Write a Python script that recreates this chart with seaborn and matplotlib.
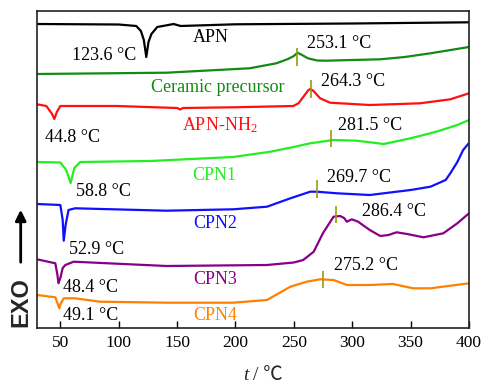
import matplotlib
matplotlib.use("Agg")
import matplotlib.pyplot as plt
import seaborn as sns
import pandas as pd

# ---- data (temperature in deg C, heat flow in arbitrary stacked units) ----
apn_t = [30, 100, 115, 119, 121.5, 123.6, 125.5, 128, 133, 141, 147, 153, 200, 300, 400]
apn_y = [304, 303.5, 302, 297, 288, 271, 286, 294, 301, 302.7, 304, 302, 303.7, 304.5, 305.7]

cer_t = [30, 141, 212, 235, 245, 250, 253.1, 257, 262, 270, 278, 300, 324, 345, 367, 400]
cer_y = [254, 255.3, 259.7, 264.7, 269, 272, 275.3, 273, 269.7, 267.5, 267.3, 268, 268.7, 271, 274.7, 281]

nh2_t = [30, 38, 42.9, 44.8, 47, 50, 98.5, 150, 152.7, 155, 198, 249.5, 254, 258.2, 262.5,
         264.3, 266.8, 272.5, 281, 315, 358, 384, 400]
nh2_y = [223.7, 222, 214, 209, 216, 222, 222, 220, 218.5, 220, 220.7, 222, 224.7, 231.3, 238,
         239, 237, 229.7, 225.3, 223, 224.7, 228.7, 234.7]

cpn1_t = [30, 50, 55, 58.8, 62, 67, 127, 198, 230, 251, 264, 284, 304, 327, 350, 372, 390, 400]
cpn1_y = [166, 165.5, 158, 145, 160, 166, 167, 171, 176.3, 181.3, 184.7, 188, 187.3, 184,
          189.7, 196.3, 203, 208]

cpn2_t = [30, 50, 52, 52.9, 54.5, 57, 62.6, 141, 198, 227, 247, 264, 269.7, 287, 315, 350,
          367, 380, 384, 390, 395, 400]
cpn2_y = [124, 123, 108, 87.3, 103, 118, 119.7, 117.3, 118.7, 121.3, 129.7, 136.3, 136.3,
          134.7, 133, 138, 141.3, 148, 154.7, 166, 178, 185]

cpn3_t = [30, 45.7, 47.5, 48.4, 50, 52, 54.3, 61.4, 141, 227, 250, 258, 267, 275, 284, 289.6,
          293, 295.4, 299.6, 305, 315, 324, 331, 338, 347, 361, 378, 390, 400]
cpn3_y = [68.7, 64.7, 53, 44.7, 50, 60, 63, 66.3, 62, 63, 65.5, 68, 76.3, 95, 111.3, 112,
          110, 106.3, 108.7, 106.3, 98, 92, 93, 95.7, 94, 90.7, 94.7, 104.7, 114.7]

cpn4_t = [30, 45.7, 47.5, 49.1, 50.5, 53, 62.6, 84, 141, 198, 227, 247, 261, 272.5, 284,
          295.4, 315, 335, 352, 367, 400]
cpn4_y = [33, 30.7, 25, 19.7, 25, 29.7, 29.7, 26.3, 25.3, 25.3, 28, 41.3, 46.3, 48.7, 48,
          43, 43, 44, 39.7, 39.7, 44.7]

series_names = ["APN", "Ceramic precursor", "APN-NH$_2$", "CPN1", "CPN2", "CPN3", "CPN4"]
series_t = [apn_t, cer_t, nh2_t, cpn1_t, cpn2_t, cpn3_t, cpn4_t]
series_y = [apn_y, cer_y, nh2_y, cpn1_y, cpn2_y, cpn3_y, cpn4_y]
series_colors = ["#000000", "#138a13", "#ff1010", "#22ee22", "#1010ff", "#880088", "#ff8000"]

# peak markers: temperature, lower, upper
mark_t = [253.1, 264.3, 281.5, 269.7, 286.4, 275.2]
mark_lo = [262, 230, 181, 130, 105, 40]
mark_hi = [280, 248, 198, 148, 122, 57]

# annotation labels
ann_text = ["123.6 °C", "253.1 °C", "264.3 °C", "44.8 °C", "281.5 °C", "58.8 °C",
            "269.7 °C", "52.9 °C", "286.4 °C", "48.4 °C", "275.2 °C", "49.1 °C"]
ann_t = [60.3, 261.4, 273.4, 37.2, 287.9, 63.7, 278.5, 57.7, 308.4, 52.6, 284.5, 52.6]
ann_y = [273, 285, 247, 191, 202, 136, 151, 78, 117, 41, 62, 13]

# series name labels (centers)
name_t = [178.4, 185.2, 187, 181.8, 182.7, 182.7, 182.7]
name_y = [291, 241, 203, 153, 105, 49, 13]

xticks = [50, 100, 150, 200, 250, 300, 350, 400]

# ---- plotting ----
sns.set_theme(style="ticks")
plt.rcParams["font.family"] = ["Liberation Serif", "DejaVu Sans"]
plt.rcParams["mathtext.fontset"] = "custom"
plt.rcParams["mathtext.rm"] = "Liberation Serif"
plt.rcParams["mathtext.it"] = "Liberation Serif:italic"

fig = plt.figure(figsize=(4.82, 3.83), dpi=100)
ax = fig.add_axes([37 / 482, 55 / 383, 432 / 482, 317 / 383])

for name, t, y, c in zip(series_names, series_t, series_y, series_colors):
    df = pd.DataFrame({"t": t, "y": y})
    sns.lineplot(data=df, x="t", y="y", ax=ax, color=c, lw=1.6, estimator=None, sort=False,
                 solid_joinstyle="round", solid_capstyle="round")

ax.vlines(mark_t, mark_lo, mark_hi, colors="#9a9a10", lw=1.2, zorder=5)

for s, t, y in zip(ann_text, ann_t, ann_y):
    ax.text(t, y, s, ha="left", va="center", fontsize=13, color="black")

for s, t, y, c in zip(series_names, name_t, name_y, series_colors):
    ax.text(t, y, s, ha="center", va="center", fontsize=13, color=c)

ax.set_xlim(30, 400)
ax.set_ylim(0, 317)
ax.set_xticks(xticks)
ax.set_xticklabels([str(v) for v in xticks])
ax.set_yticks([])
ax.tick_params(axis="x", direction="in", length=5, width=1, labelsize=12.5, pad=5, colors="black")
for sp in ax.spines.values():
    sp.set_visible(True)
    sp.set_linewidth(1.2)
    sp.set_color("#222222")
ax.set_ylabel("")
ax.set_xlabel("")

# x-axis title: italic t, then " / ℃"
fig.text(249 / 482, 1 - 376 / 383, "t", ha="right", va="center", fontsize=14,
         style="italic", family="Liberation Serif")
fig.text(253 / 482, 1 - 376 / 383, "/ ℃", ha="left", va="center", fontsize=14,
         family=["Liberation Serif", "Noto Sans CJK SC"])

fig.text(20.5 / 482, 1 - 302 / 383, "EXO", rotation=90, ha="center", va="center",
         fontsize=17, fontweight="bold", family="Liberation Sans")
ax.annotate("", xy=(20.7 / 482, 1 - 207 / 383), xytext=(20.7 / 482, 1 - 265 / 383),
            xycoords="figure fraction", textcoords="figure fraction",
            arrowprops=dict(arrowstyle="-|>", lw=2, color="black", mutation_scale=16))

fig.savefig("out.png", dpi=100)
